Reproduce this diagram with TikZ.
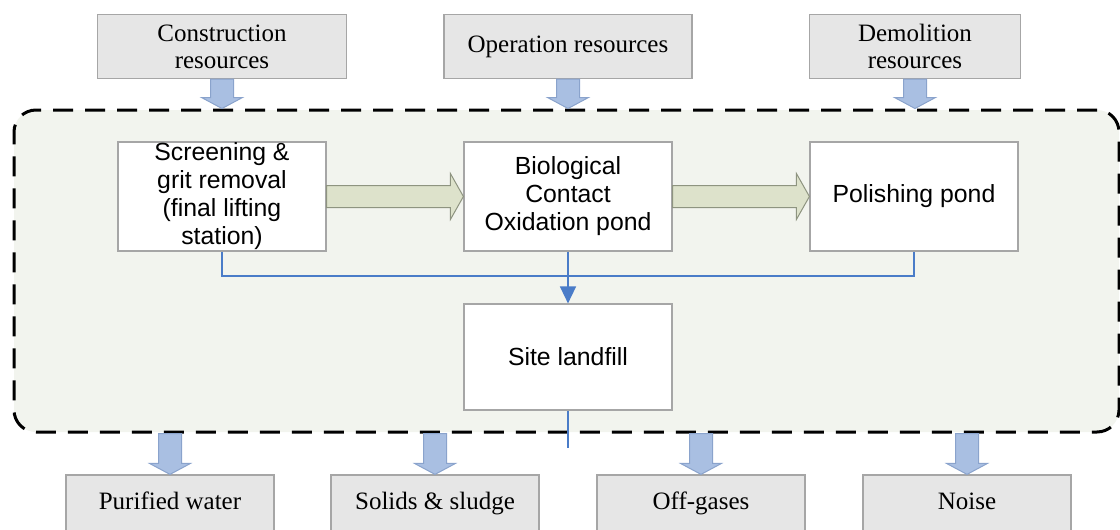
\documentclass[tikz,border=0pt]{standalone}
\usepackage{fontspec}
\setmainfont{Liberation Serif}
\newfontfamily\arialfont{Liberation Sans}
\usetikzlibrary{calc,arrows.meta}

\definecolor{resgray}{HTML}{E6E6E6}
\definecolor{boxline}{HTML}{A6A6A6}
\definecolor{framefill}{HTML}{F2F4EE}
\definecolor{greenfill}{HTML}{DDE2CB}
\definecolor{greenline}{HTML}{8E9480}
\definecolor{bluefill}{HTML}{A9BFE2}
\definecolor{blueline}{HTML}{8AA3CC}
\definecolor{flowblue}{HTML}{4A7CC8}

% block arrows (down for resources/outputs, right for the process chain)
\newcommand{\vblock}[2]{\draw[resarrow] let \p1=(#1), \p2=(#2) in
  (\x1-5.75pt,\y1) -- (\x1-5.75pt,\y2+5.5pt) -- (\x1-10.25pt,\y2+5.5pt) -- (\x1,\y2)
  -- (\x1+10.25pt,\y2+5.5pt) -- (\x1+5.75pt,\y2+5.5pt) -- (\x1+5.75pt,\y1) -- cycle;}
\newcommand{\hblock}[2]{\draw[chainarrow] let \p1=(#1), \p2=(#2) in
  (\x1,\y1-5.5pt) -- (\x2-6.5pt,\y1-5.5pt) -- (\x2-6.5pt,\y1-11.5pt) -- (\x2,\y1)
  -- (\x2-6.5pt,\y1+11.5pt) -- (\x2-6.5pt,\y1+5.5pt) -- (\x1,\y1+5.5pt) -- cycle;}

\begin{document}
\begin{tikzpicture}[x=0.5pt, y=-0.5pt,
  resbox/.style={draw=boxline, fill=resgray, line width=0.6pt, align=center,
    font=\fontsize{12.5}{13.5}\selectfont, inner sep=0pt},
  outbox/.style={resbox, minimum width=104pt, minimum height=28.5pt,
    text height=8.5pt, text depth=2.5pt},
  unitbox/.style={draw=boxline, fill=white, line width=0.6pt, align=center,
    minimum width=104pt, font=\arialfont\fontsize{12.4}{14}\selectfont, inner sep=0pt},
  resarrow/.style={draw=blueline, fill=bluefill, line width=0.5pt},
  chainarrow/.style={draw=greenline, fill=greenfill, line width=0.5pt},
  flowline/.style={draw=flowblue, line width=0.8pt}]
\useasboundingbox (0,0) rectangle (1120,530);

\node [draw, dashed, line width=1.5pt, dash pattern=on 10pt off 6pt, rounded corners=11pt,
  fill=framefill, minimum width=552.5pt, minimum height=161pt, inner sep=0pt] (frame) at (566.5,271) {};

\node [resbox, minimum width=124.5pt, minimum height=32pt] (cons) at (222,46.5) {Construction\\resources};
\node [resbox, minimum width=124pt, minimum height=32pt] (oper) at (568,46.5) {Operation resources};
\node [resbox, minimum width=105.5pt, minimum height=32pt] (demo) at (915,46.5) {Demolition\\resources};

\node [unitbox, minimum height=54.5pt] (screen) at (222,196.5) {Screening \&\\grit removal\\(final lifting\\station)};
\node [unitbox, minimum height=54.5pt] (bio) at (568,196.5) {Biological\\Contact\\Oxidation pond};
\node [unitbox, minimum height=54.5pt] (polish) at (914,196.5) {Polishing pond};
\node [unitbox, minimum height=53pt] (landfill) at (568,357) {Site landfill};

\node [outbox] (water) at (170,503.5) {Purified water};
\node [outbox] (solids) at (435,503.5) {Solids \& sludge};
\node [outbox] (gases) at (701,503.5) {Off-gases};
\node [outbox] (noise) at (967,503.5) {Noise};

\vblock{cons.south}{cons.south |- frame.north}
\vblock{oper.south}{oper.south |- frame.north}
\vblock{demo.south}{demo.south |- frame.north}

\hblock{screen.east}{bio.west}
\hblock{bio.east}{polish.west}

\coordinate (join) at (568,276);
\coordinate (drain) at (568,448);
\draw [flowline] (screen.south) |- (join) -| (polish.south);
\draw [flowline, -{Triangle[length=8.5pt, width=8pt]}] (bio.south) -- (landfill.north);
\draw [flowline] (landfill.south) -- (drain);

\vblock{water.north |- frame.south}{water.north}
\vblock{solids.north |- frame.south}{solids.north}
\vblock{gases.north |- frame.south}{gases.north}
\vblock{noise.north |- frame.south}{noise.north}
\end{tikzpicture}
\end{document}
